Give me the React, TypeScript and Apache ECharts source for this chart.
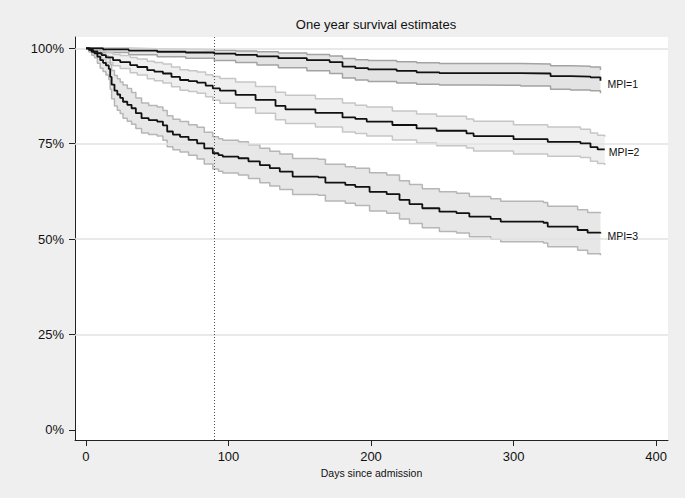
import React, { useEffect, useRef } from "react";
import * as echarts from "echarts";

// ---- data ----
const titleText = "One year survival estimates";
const xAxisName = "Days since admission";
const xTicks = [0, 100, 200, 300, 400];
const yTicks = [0, 25, 50, 75, 100];
const gridValues = [25, 50, 75, 100];
const refDay = 90;

const days1 = [0, 12, 30, 50, 70, 90, 105, 120, 135, 155, 171, 180, 189, 198, 218, 232, 248, 275, 305, 326, 340, 354, 361];
const surv1 = [100, 99.7, 99.4, 99.1, 98.9, 98.6, 98.3, 97.9, 97.4, 96.9, 96.4, 95.2, 94.8, 94.5, 94.1, 93.7, 93.5, 93.5, 93.4, 92.7, 92.6, 92.4, 91.5];
const upper1 = [100, 100, 99.9, 99.8, 99.7, 99.5, 99.3, 99.1, 98.8, 98.4, 98.0, 97.3, 97.0, 96.8, 96.5, 96.2, 96.0, 96.0, 95.9, 95.4, 95.3, 95.1, 94.3];
const lower1 = [100, 98.9, 98.3, 97.8, 97.4, 96.8, 96.3, 95.6, 94.9, 94.1, 93.4, 92.2, 91.7, 91.3, 90.9, 90.6, 90.4, 90.3, 90.1, 89.3, 89.1, 88.9, 88.2];

const days2 = [0, 3, 5, 8, 11, 14, 19, 24, 31, 36, 43, 48, 54, 60, 66, 72, 78, 84, 89, 94, 105, 119, 133, 140, 161, 180, 189, 197, 215, 232, 246, 267, 272, 300, 324, 347, 354, 359, 364];
const surv2 = [100, 99.6, 99.2, 98.7, 98.2, 97.6, 96.9, 96.4, 95.6, 95.1, 94.3, 93.9, 93.4, 92.5, 91.7, 91.4, 91.0, 90.2, 89.5, 88.9, 87.8, 86.5, 84.9, 84.0, 83.1, 81.9, 81.5, 80.8, 79.9, 79.0, 78.4, 77.7, 77.0, 76.2, 75.5, 75.1, 74.1, 73.5, 73.5];
const upper2 = [100, 99.9, 99.8, 99.6, 99.3, 98.9, 98.4, 98.1, 97.6, 97.2, 96.6, 96.3, 95.9, 95.1, 94.4, 94.1, 93.8, 93.1, 92.6, 92.1, 91.2, 90.0, 88.5, 87.7, 86.8, 85.7, 85.1, 84.6, 83.6, 82.8, 82.2, 81.5, 80.9, 80.0, 79.4, 78.8, 77.8, 77.2, 76.8];
const lower2 = [100, 99.2, 98.6, 97.8, 97.1, 96.3, 95.4, 94.7, 93.6, 93.0, 92.0, 91.5, 90.9, 89.9, 89.0, 88.7, 88.2, 87.3, 86.4, 85.6, 84.4, 83.0, 81.3, 80.3, 79.4, 78.1, 77.7, 77.0, 76.0, 75.2, 74.5, 73.9, 73.1, 72.3, 71.7, 71.4, 70.4, 69.8, 69.4];

const days3 = [0, 2, 4, 6, 8, 10, 12, 14, 16, 17, 18, 20, 22, 24, 26, 29, 32, 35, 39, 44, 50, 54, 57, 61, 66, 72, 78, 83, 89, 93, 96, 107, 114, 122, 129, 136, 145, 163, 168, 182, 189, 199, 211, 220, 227, 236, 248, 260, 269, 284, 291, 321, 324, 345, 352, 361];
const surv3 = [100, 99.6, 99.1, 98.7, 97.8, 96.9, 96.2, 95.5, 94.6, 92.5, 90.5, 88.9, 87.9, 87.0, 86.0, 85.2, 84.3, 83.0, 81.7, 81.2, 80.8, 79.8, 78.2, 77.4, 76.8, 76.0, 75.1, 73.8, 72.5, 72.0, 71.6, 71.2, 70.4, 69.4, 68.6, 67.7, 66.4, 66.2, 64.8, 64.2, 63.7, 62.4, 61.8, 60.3, 59.2, 58.1, 57.2, 56.8, 55.9, 55.3, 54.6, 54.3, 53.3, 52.4, 51.7, 51.5];
const upper3 = [100, 100, 99.9, 99.8, 99.4, 98.9, 98.4, 98.0, 97.4, 95.8, 94.2, 92.9, 92.0, 91.2, 90.4, 89.5, 88.4, 87.0, 85.7, 85.0, 84.6, 83.7, 82.3, 81.4, 80.8, 80.0, 79.3, 78.0, 76.8, 76.3, 75.9, 75.5, 74.7, 73.8, 73.0, 72.3, 71.1, 70.9, 69.6, 69.0, 68.6, 67.4, 66.8, 65.3, 64.3, 63.2, 62.4, 62.0, 61.2, 60.6, 59.9, 59.6, 58.6, 57.7, 57.0, 56.8];
const lower3 = [100, 99.0, 98.2, 97.5, 96.1, 94.8, 93.9, 93.0, 91.8, 89.3, 86.8, 84.9, 83.8, 82.9, 81.7, 80.9, 80.1, 79.0, 77.8, 77.4, 77.0, 75.9, 74.2, 73.4, 72.8, 72.0, 71.0, 69.7, 68.4, 67.8, 67.3, 66.8, 65.9, 64.8, 63.9, 63.0, 61.7, 61.5, 60.0, 59.4, 58.8, 57.4, 56.8, 55.3, 54.1, 53.0, 52.0, 51.6, 50.6, 50.0, 49.3, 49.0, 48.0, 47.1, 46.2, 45.8];

const groupLabels = ["MPI=1", "MPI=2", "MPI=3"];

const FONT = "'Liberation Sans', Arial, sans-serif";

type Group = {
  days: number[];
  surv: number[];
  lower: number[];
  upper: number[];
  label: string;
  fill: string;
  edge: string;
  labelDist: number;
};

const groups: Group[] = [
  { days: days1, surv: surv1, lower: lower1, upper: upper1, label: groupLabels[0], fill: "#e3e3e3", edge: "#a3a3a3", labelDist: 7 },
  { days: days2, surv: surv2, lower: lower2, upper: upper2, label: groupLabels[1], fill: "#efefef", edge: "#c6c6c6", labelDist: 4 },
  { days: days3, surv: surv3, lower: lower3, upper: upper3, label: groupLabels[2], fill: "#e7e7e7", edge: "#b6b6b6", labelDist: 7 },
];

const pairs = (xs: number[], ys: number[]) => xs.map((x, i) => [x, ys[i]]);

// step-function ("end" step) vertices in data space
const stepPoints = (xs: number[], ys: number[]) => {
  const pts: number[][] = [];
  for (let i = 0; i < xs.length; i++) {
    if (i > 0) pts.push([xs[i], ys[i - 1]]);
    pts.push([xs[i], ys[i]]);
  }
  return pts;
};

export default function App() {
  const ref = useRef<HTMLDivElement>(null);

  useEffect(() => {
    if (!ref.current) return;
    const chart = echarts.init(ref.current, null, { renderer: "svg" });

    const series: any[] = [];
    // invisible carrier series for grid lines
    series.push({
      type: "line",
      data: [[0, 100]],
      symbol: "none",
      silent: true,
      lineStyle: { opacity: 0 },
      z: 1,
      markLine: {
        silent: true,
        symbol: ["none", "none"],
        label: { show: false },
        lineStyle: { color: "#e2e2e2", type: "solid", width: 1.5 },
        data: gridValues.map((v) => ({ yAxis: v })),
      },
    });
    // confidence bands
    groups.forEach((g) => {
      const up = stepPoints(g.days, g.upper);
      const lo = stepPoints(g.days, g.lower).reverse();
      const poly = up.concat(lo);
      series.push({
        type: "custom",
        data: [[g.days[0], g.upper[0]]],
        silent: true,
        z: 3,
        clip: true,
        renderItem: (_params: any, api: any) => ({
          type: "polygon",
          shape: { points: poly.map((p) => api.coord(p)) },
          style: { fill: g.fill, stroke: "none" },
        }),
      });
    });
    groups.forEach((g) => {
      [g.lower, g.upper].forEach((arr) => {
        series.push({
          type: "line",
          data: pairs(g.days, arr),
          step: "end",
          symbol: "none",
          silent: true,
          lineStyle: { color: g.edge, width: 1.5 },
          z: 4,
        });
      });
    });
    groups.forEach((g, k) => {
      series.push({
        type: "line",
        data: pairs(g.days, g.surv),
        step: "end",
        symbol: "none",
        silent: true,
        lineStyle: { color: "#111111", width: 1.8 },
        z: 5,
        endLabel: {
          show: true,
          formatter: g.label,
          distance: g.labelDist,
          offset: [0, 3],
          fontFamily: FONT,
          fontSize: 10.5,
          color: "#111111",
        },
        ...(k === 2
          ? {
              markLine: {
                silent: true,
                symbol: ["none", "none"],
                label: { show: false },
                lineStyle: { color: "#555555", type: [1, 2], width: 1 },
                data: [{ xAxis: refDay }],
              },
            }
          : {}),
      });
    });

    chart.setOption({
      animation: false,
      backgroundColor: "#efefef",
      textStyle: { fontFamily: FONT },
      title: {
        text: titleText,
        left: 371,
        top: 13,
        textAlign: "center",
        textStyle: { fontFamily: FONT, fontSize: 13, fontWeight: "normal", color: "#111111" },
      },
      grid: {
        left: 75,
        right: 17,
        top: 37,
        bottom: 58,
        show: true,
        backgroundColor: "#ffffff",
        borderWidth: 0,
      },
      xAxis: {
        type: "value",
        min: -7.7,
        max: 408.4,
        name: xAxisName,
        nameLocation: "middle",
        nameGap: 25,
        nameTextStyle: { fontFamily: FONT, fontSize: 10.5, color: "#111111" },
        axisLine: { show: true, onZero: false, lineStyle: { color: "#222222", width: 1 } },
        axisTick: { show: true, length: 6, customValues: xTicks, lineStyle: { color: "#222222" } },
        axisLabel: { customValues: xTicks, fontSize: 13, color: "#111111", margin: 10, fontFamily: FONT },
        splitLine: { show: false },
      },
      yAxis: {
        type: "value",
        min: -2.62,
        max: 102.96,
        axisLine: { show: true, onZero: false, lineStyle: { color: "#222222", width: 1 } },
        axisTick: { show: true, length: 6, customValues: yTicks, lineStyle: { color: "#222222" } },
        axisLabel: {
          customValues: yTicks,
          fontSize: 13,
          color: "#111111",
          margin: 11,
          fontFamily: FONT,
          formatter: (v: number) => `${v}%`,
        },
        splitLine: { show: false },
      },
      series,
    });

    return () => chart.dispose();
  }, []);

  return (
    <div
      ref={ref}
      style={{ position: "absolute", left: 0, top: 0, width: 685, height: 498 }}
    />
  );
}
